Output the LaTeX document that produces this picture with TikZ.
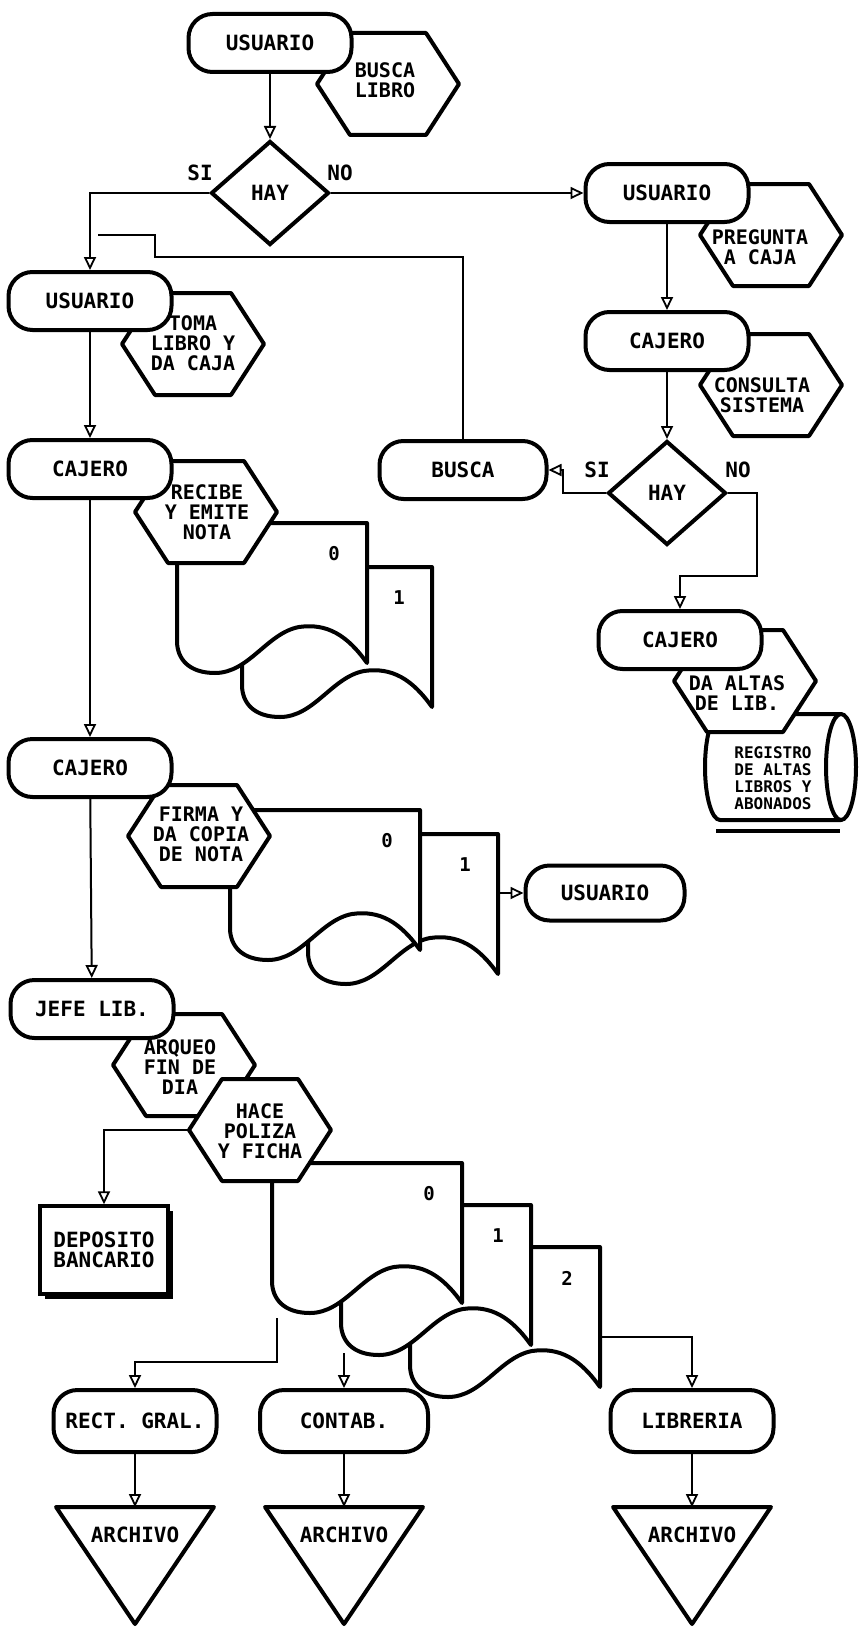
\documentclass[tikz,border=0pt]{standalone}
\usepackage{fontspec}
\newfontfamily\chartfont{DejaVu Sans Mono}
\usetikzlibrary{shapes.geometric,arrows.meta,positioning,calc,shadows}
\definecolor{Ink}{HTML}{000000}

% hexagon outline: name, x, y
\newcommand{\hexbox}[3]{%
  \draw[hexline] (#2-71,#3) -- (#2-38,#3-51) -- (#2+38,#3-51) -- (#2+71,#3)
    -- (#2+38,#3+51) -- (#2-38,#3+51) -- cycle;
  \coordinate (#1) at (#2,#3);
  \coordinate (#1w) at (#2-71,#3);}

% document sheet: name, x, y, number
\newcommand{\docsheet}[4]{%
  \draw[docline] (#2,#3) -- (#2+190,#3) -- (#2+190,#3+140)
    .. controls (#2+170,#3+112) and (#2+150,#3+100) .. (#2+122,#3+104)
    .. controls (#2+90,#3+110) and (#2+72,#3+150) .. (#2+38,#3+150)
    .. controls (#2+12,#3+150) and (#2,#3+136) .. (#2,#3+118) -- cycle;
  \node[docnum] (#1) at (#2+157,#3+31) {#4};
  \coordinate (#1e) at (#2+190,#3+90);}

\begin{document}
\begin{tikzpicture}[x=1pt,y=-1pt,
  every node/.style={text=Ink,font=\chartfont\bfseries\fontsize{21}{20}\selectfont},
  term/.style={draw=Ink,fill=white,line width=4pt,rounded corners=24pt,minimum width=163pt,minimum height=58pt,inner sep=0pt},
  ask/.style={draw=Ink,fill=white,diamond,line width=4pt,minimum width=118pt,minimum height=104pt,inner sep=0pt},
  hexline/.style={draw=Ink,fill=white,line width=4pt,line join=round},
  hextext/.style={align=center,inner sep=0pt,font=\chartfont\bfseries\fontsize{20}{20}\selectfont},
  docline/.style={draw=Ink,fill=white,line width=4pt,line join=round},
  docnum/.style={inner sep=0pt,font=\chartfont\bfseries\fontsize{19}{19}\selectfont},
  depbox/.style={draw=Ink,fill=white,line width=3.5pt,minimum width=128pt,minimum height=88pt,align=center,inner sep=0pt,
    drop shadow={shadow xshift=5pt,shadow yshift=-5pt,fill=Ink,opacity=1}},
  wire/.style={draw=Ink,line width=2pt},
  flow/.style={wire,-{Triangle[open,length=13pt,width=12pt,line width=1.8pt]}}]
  \useasboundingbox (0,0) rectangle (860,1627);

  % disk file
  \draw[docline] (720,714) -- (841,714) -- (841,820) -- (720,820)
    .. controls (711.7,820) and (705,796.4) .. (705,767)
    .. controls (705,737.6) and (711.7,714) .. (720,714) -- cycle;
  \draw[docline] (841,767) ellipse [x radius=15, y radius=53];
  \draw[Ink,line width=4pt] (716,831) -- (840,831);

  % documents
  \docsheet{docA1}{242}{567}{1}
  \docsheet{docA0}{177}{523}{0}
  \docsheet{docB1}{308}{834}{1}
  \docsheet{docB0}{230}{810}{0}
  \docsheet{docC2}{410}{1247}{2}
  \docsheet{docC1}{341}{1205}{1}
  \docsheet{docC0}{272}{1163}{0}

  % process hexagons
  \hexbox{buscaLibro}{388}{84}
  \hexbox{pregunta}{771}{235}
  \hexbox{consulta}{771}{385}
  \hexbox{toma}{193}{344}
  \hexbox{recibe}{206}{512}
  \hexbox{daAltas}{745}{681}
  \hexbox{firma}{199}{836}
  \hexbox{arqueo}{184}{1065}
  \hexbox{hace}{260}{1130}

  % actors
  \node[term] (usr1) at (270,43) {USUARIO};
  \node[term] (usr2) at (667,193) {USUARIO};
  \node[term] (caj1) at (667,341) {CAJERO};
  \node[term] (usr3) at (90,301) {USUARIO};
  \node[term] (caj2) at (90,469) {CAJERO};
  \node[term,minimum width=167pt] (busca) at (463,470) {BUSCA};
  \node[term] (caj3) at (680,640) {CAJERO};
  \node[term] (caj4) at (90,768) {CAJERO};
  \node[term,minimum width=159pt,minimum height=55pt] (usr4) at (605,893) {USUARIO};
  \node[term] (jefe) at (92,1009) {JEFE LIB.};
  \node[term,minimum height=62pt] (rect) at (135,1421) {RECT. GRAL.};
  \node[term,minimum height=62pt,minimum width=168pt] (contab) at (344,1421) {CONTAB.};
  \node[term,minimum height=62pt] (libr) at (692,1421) {LIBRERIA};
  \node[depbox] (dep) at (104,1250) {DEPOSITO\\BANCARIO};

  % decisions
  \node[ask] (hay1) at (270,193) {HAY};
  \node[ask] (hay2) at (667,493) {HAY};

  % archives
  \foreach \cx/\nm in {135/archA,344/archB,692/archC} {
    \draw[docline] (\cx-79,1507) -- (\cx+79,1507) -- (\cx,1624) -- cycle;
    \coordinate (\nm-top) at (\cx,1507);
    \node (\nm) at (\cx,1535) {ARCHIVO};
  }

  % texts on top
  \node[hextext] (buscaLibroTxt) at (385,80) {BUSCA\\LIBRO};
  \node[hextext] (preguntaTxt) at (760,247) {PREGUNTA\\A CAJA};
  \node[hextext] (consultaTxt) at (762,395) {CONSULTA\\SISTEMA};
  \node[hextext] (tomaTxt) at (193,343) {TOMA\\LIBRO Y\\DA CAJA};
  \node[hextext] (recibeTxt) at (207,512) {RECIBE\\Y EMITE\\NOTA};
  \node[hextext] (daAltasTxt) at (737,693) {DA ALTAS\\DE LIB.};
  \node[hextext,font=\chartfont\bfseries\fontsize{16}{17}\selectfont] (diskTxt) at (773,778) {REGISTRO\\DE ALTAS\\LIBROS Y\\ABONADOS};
  \node[hextext] (firmaTxt) at (201,834) {FIRMA Y\\DA COPIA\\DE NOTA};
  \node[hextext] (arqueoTxt) at (180,1067) {ARQUEO\\FIN DE\\DIA};
  \node[hextext] (haceTxt) at (260,1131) {HACE\\POLIZA\\Y FICHA};

  \node (siA) at (200,173) {SI};
  \node (noA) at (340,173) {NO};
  \node (siB) at (597,470) {SI};
  \node (noB) at (738,470) {NO};

  \coordinate (backEnd) at (98,235);
  \coordinate (rectStart) at (277,1318);
  \coordinate (contabStart) at (344,1353);

  % connectors
  \draw[flow] (usr1) -- (hay1);
  \draw[flow] (hay1.east) -- (usr2.west);
  \draw[flow] (hay1.west) -| (usr3.north);
  \draw[flow] (usr2) -- (caj1);
  \draw[flow] (caj1) -- (hay2);
  \draw[flow] (hay2.west) -- ++(-43,0) |- (busca.east);
  \draw[flow] (hay2.east) -- ++(29,0) -- ++(0,83) -| (caj3.north);
  \draw[wire] (busca.north) |- (155,257) |- (backEnd);
  \draw[flow] (usr3) -- (caj2);
  \draw[flow] (caj2) -- (caj4);
  \draw[flow] (caj4) -- (jefe);
  \draw[flow] (docB1e |- usr4.west) -- (usr4.west);
  \draw[flow] (hacew) -| (dep.north);
  \draw[flow] (rectStart) -- ++(0,44) -| (rect.north);
  \draw[flow] (contabStart) -- (contab.north);
  \draw[flow] (docC2e) -| (libr.north);
  \draw[flow] (rect) -- (archA-top);
  \draw[flow] (contab) -- (archB-top);
  \draw[flow] (libr) -- (archC-top);
\end{tikzpicture}
\end{document}
